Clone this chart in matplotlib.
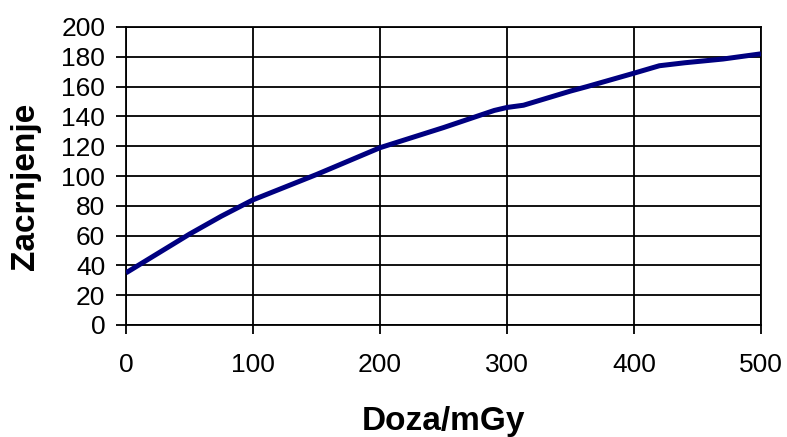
import matplotlib
matplotlib.use("Agg")
import matplotlib.pyplot as plt

plt.rcParams['font.family'] = ['Liberation Sans', 'DejaVu Sans']

doza = [0, 25, 50, 75, 100, 150, 200, 250, 290, 300, 313, 350, 363, 400, 420, 440, 470, 500]
zacrnjenje = [35, 48, 61, 73, 84, 101, 119, 132.5, 144, 146, 147.5, 157, 160, 169, 174, 176, 178.5, 182]

x_ticks = [0, 100, 200, 300, 400, 500]
y_ticks = list(range(0, 201, 20))

fig = plt.figure(figsize=(7.87, 4.37), dpi=100)
ax = fig.add_axes([126/787, 1-325/437, (761-126)/787, (325-27)/437])

ax.plot(doza, zacrnjenje, color='#000080', linewidth=3.6, solid_capstyle='butt',
        solid_joinstyle='round', zorder=3)

ax.set_xlim(0, 500)
ax.set_ylim(0, 200)
ax.set_xticks(x_ticks)
ax.set_yticks(y_ticks)
ax.grid(True, color='black', linewidth=1.3)
ax.set_axisbelow(True)
for s in ax.spines.values():
    s.set_color('black')
    s.set_linewidth(1.3)

ax.tick_params(axis='x', direction='out', length=6.5, width=1.3, pad=14, labelsize=19)
ax.tick_params(axis='y', direction='out', length=7, width=1.3, pad=8, labelsize=19)

ax.set_xlabel('Doza/mGy', fontsize=24, fontweight='bold', va='center')
ax.set_ylabel('Zacrnjenje', fontsize=24, fontweight='bold', va='center')
ax.xaxis.set_label_coords(0.5, -0.325)
ax.yaxis.set_label_coords(-0.159, 0.466)

fig.savefig('out.png', dpi=100)
